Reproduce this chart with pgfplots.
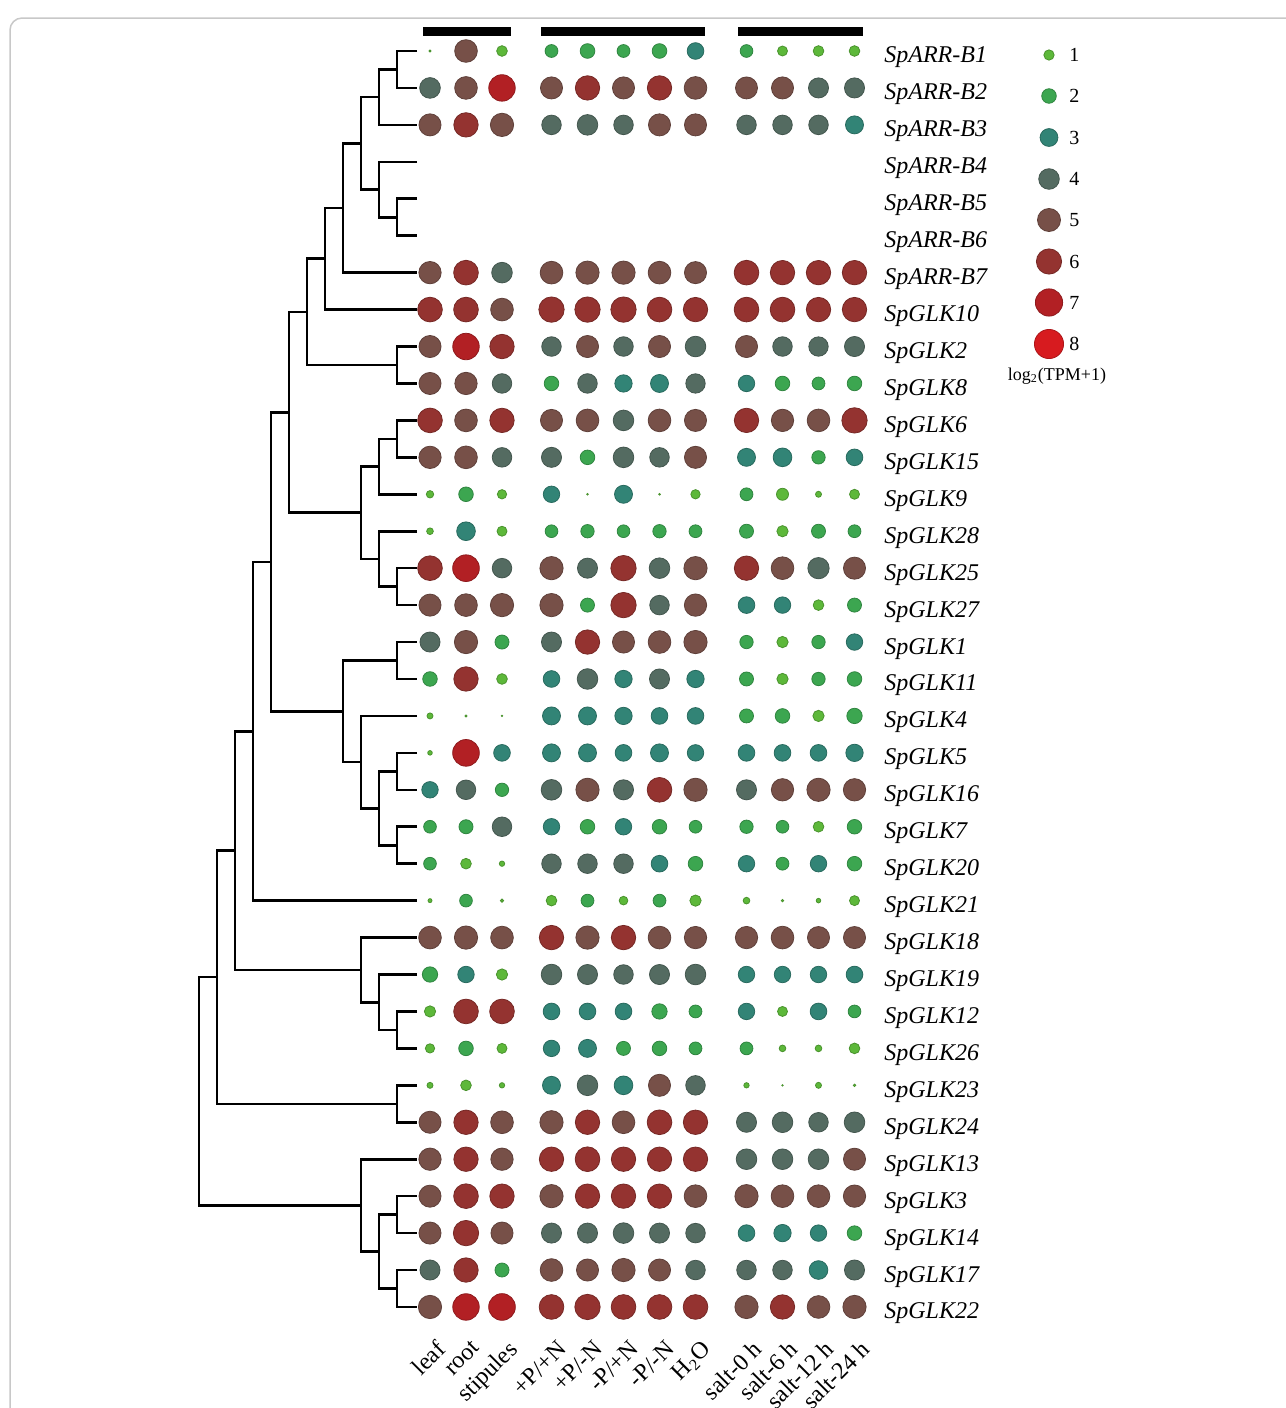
\documentclass[border=0pt]{standalone}
\usepackage{pgfplots}
\pgfplotsset{compat=1.18}
\usepackage{pgfplotstable}
\usepackage{fontspec}
\setmainfont{Liberation Serif}

\pgfplotstableread{
row leaf root stip ppn pmn mpn mmn hoh sa sb sc sd
0 0.04 4.85 1.07 1.55 2.03 1.55 2.03 2.62 1.52 0.94 1.07 1.07
1 4.03 4.85 6.6 4.6 5.6 4.6 5.6 4.85 4.56 4.6 3.8 3.8
2 4.6 5.6 5.1 3.6 4.0 3.6 4.6 4.6 3.6 3.6 3.6 3.05
6 4.7 5.74 4.0 4.85 5.1 5.1 4.85 4.6 5.74 5.6 5.6 5.6
7 5.74 5.74 4.85 6.05 6.05 6.05 5.74 5.6 5.74 5.74 5.6 5.6
8 4.6 6.6 5.6 3.6 4.6 3.6 4.6 4.0 4.6 3.6 3.55 3.8
9 4.6 4.7 3.6 2.0 3.6 2.83 3.05 3.55 2.55 2.0 1.55 2.0
10 5.74 4.85 5.6 4.6 4.85 4.0 4.85 4.6 5.6 4.7 4.85 6.05
11 4.7 4.85 3.6 3.8 2.0 4.0 3.6 4.6 3.05 3.29 1.68 2.62
12 0.51 2.0 0.82 2.55 nan 3.05 0.03 0.82 1.55 1.36 0.34 0.94
13 0.42 3.29 0.94 1.52 1.68 1.52 1.68 1.55 1.85 1.2 1.85 1.55
14 5.74 6.7 3.6 5.1 3.8 6.05 4.0 5.1 5.6 4.85 4.28 4.6
15 4.6 4.85 5.1 5.1 1.85 6.05 3.6 4.7 2.62 2.55 1.07 1.85
16 3.8 5.1 1.85 3.8 5.6 4.6 4.85 5.1 1.68 1.2 1.68 2.55
17 2.0 5.6 1.07 2.62 4.0 2.83 3.8 2.83 1.85 1.2 1.68 2.0
18 0.34 0.04 nan 3.05 3.05 2.83 2.62 2.62 1.85 2.0 1.2 2.22
19 0.2 6.7 2.62 3.05 3.05 2.62 3.05 2.55 2.62 2.62 2.62 2.83
20 2.55 3.6 1.68 4.0 5.1 3.8 5.74 5.1 3.8 4.7 5.1 4.7
21 1.52 1.85 3.6 2.55 2.0 2.55 2.0 1.52 1.68 1.52 1.07 2.0
22 1.52 1.07 0.27 3.6 3.6 3.6 2.62 2.0 2.55 1.55 2.55 2.0
23 0.15 1.52 0.1 1.07 1.55 0.71 1.55 1.2 0.42 0.06 0.2 0.94
24 4.85 5.1 4.85 5.6 5.1 5.6 4.85 4.7 4.7 4.85 4.6 4.6
25 2.22 2.55 1.2 4.0 3.8 3.6 3.8 4.0 2.55 2.55 2.55 2.62
26 1.2 5.74 5.74 2.62 2.62 2.62 2.22 1.55 2.55 0.94 2.62 1.52
27 0.82 2.0 0.94 2.55 3.05 1.85 2.0 1.55 1.55 0.42 0.42 1.07
28 0.34 1.07 0.27 3.05 4.0 3.29 4.6 3.6 0.27 nan 0.34 0.06
29 4.6 5.6 4.85 5.1 5.6 4.85 5.74 5.6 3.8 4.0 3.6 4.0
30 4.7 5.6 4.7 5.6 5.74 5.6 5.6 5.6 4.0 4.0 4.0 4.6
31 4.6 5.74 5.6 5.1 5.6 5.6 5.6 4.85 5.1 4.85 4.85 4.7
32 4.6 6.05 4.6 3.8 3.8 4.0 3.8 3.6 2.62 2.83 2.55 2.0
33 3.8 5.6 1.85 4.85 4.6 5.1 4.6 3.6 3.6 3.6 3.29 3.8
34 5.1 6.6 6.7 5.74 6.05 5.74 5.74 5.74 5.1 5.6 4.85 5.1
}\expr

\pgfplotstableread{
x y v
1049 0.108 1
1049 1.218 2
1049 2.342 3
1049 3.465 4
1049 4.575 5
1049 5.698 6
1049 6.808 7
1049 7.932 8
}\legdata

\pgfplotsset{
  dotcol/.style={only marks, scatter, mark=*, point meta={\thisrow{#1}},
    visualization depends on={sqrt(max(\thisrow{#1},0.02)) \as \rad},
    scatter/@pre marker code/.append style={/tikz/mark size=2.575*\rad}},
  dend/.style={black, line width=1.3pt, no markers, line join=miter},
}

\newcommand{\rowlab}[2]{\node[anchor=base west, inner sep=0pt, yshift=-6pt, font=\itshape\fontsize{12}{14}\selectfont] at (axis cs:884,#1) {#2};}
\newcommand{\collab}[2]{\node[rotate=45, anchor=north east, inner sep=0pt, font=\fontsize{12}{14}\selectfont] at (axis cs:#1,34.86) {#2};}
\newcommand{\leglab}[2]{\node[anchor=west, inner sep=0pt, font=\fontsize{10}{12}\selectfont] at (axis cs:1069,#1) {#2};}

\begin{document}
\begin{tikzpicture}
\begin{axis}[
  scale only axis, width=642.5pt, height=704pt,
  xmin=0, xmax=1285, ymin=-1.3806, ymax=36.7353, y dir=reverse,
  hide axis, clip=false,
  colormap={dots}{rgb255=(93,184,58) rgb255=(60,166,80) rgb255=(50,132,118) rgb255=(84,107,97) rgb255=(119,80,72) rgb255=(148,51,48) rgb255=(178,32,36) rgb255=(215,27,31)},
  colormap access=piecewise constant,
  point meta min=0.5, point meta max=8.5,
]
\coordinate (BL) at (rel axis cs:0,0);
\coordinate (TR) at (rel axis cs:1,1);
% frame
\draw[color={rgb,255:red,200;green,200;blue,200}, line width=0.75pt, rounded corners=6pt] (axis cs:10,40) -- (axis cs:10,-0.893) -- (axis cs:1300,-0.893);
% top bars
\addplot[black, line width=4.5pt, no markers] coordinates {(423,-0.528) (511,-0.528)};
\addplot[black, line width=4.5pt, no markers] coordinates {(541,-0.528) (705,-0.528)};
\addplot[black, line width=4.5pt, no markers] coordinates {(738,-0.528) (863,-0.528)};
% dendrogram
\addplot[dend] coordinates {(417,0)(397,0)(397,1)(417,1)};
\addplot[dend] coordinates {(397,0.5)(379,0.5)(379,2)(417,2)};
\addplot[dend] coordinates {(417,4)(397,4)(397,5)(417,5)};
\addplot[dend] coordinates {(417,3)(379,3)(379,4.5)(397,4.5)};
\addplot[dend] coordinates {(379,1.25)(361,1.25)(361,3.75)(379,3.75)};
\addplot[dend] coordinates {(361,2.5)(343,2.5)(343,6)(417,6)};
\addplot[dend] coordinates {(343,4.25)(325,4.25)(325,7)(417,7)};
\addplot[dend] coordinates {(417,8)(397,8)(397,9)(417,9)};
\addplot[dend] coordinates {(325,5.625)(307,5.625)(307,8.5)(397,8.5)};
\addplot[dend] coordinates {(417,10)(397,10)(397,11)(417,11)};
\addplot[dend] coordinates {(397,10.5)(379,10.5)(379,12)(417,12)};
\addplot[dend] coordinates {(417,14)(397,14)(397,15)(417,15)};
\addplot[dend] coordinates {(417,13)(379,13)(379,14.5)(397,14.5)};
\addplot[dend] coordinates {(379,11.25)(361,11.25)(361,13.75)(379,13.75)};
\addplot[dend] coordinates {(307,7.0625)(289,7.0625)(289,12.5)(361,12.5)};
\addplot[dend] coordinates {(417,16)(397,16)(397,17)(417,17)};
\addplot[dend] coordinates {(417,19)(397,19)(397,20)(417,20)};
\addplot[dend] coordinates {(417,21)(397,21)(397,22)(417,22)};
\addplot[dend] coordinates {(397,19.5)(379,19.5)(379,21.5)(397,21.5)};
\addplot[dend] coordinates {(417,18)(361,18)(361,20.5)(379,20.5)};
\addplot[dend] coordinates {(397,16.5)(343,16.5)(343,19.25)(361,19.25)};
\addplot[dend] coordinates {(289,9.78125)(271,9.78125)(271,17.875)(343,17.875)};
\addplot[dend] coordinates {(271,13.828)(253,13.828)(253,23)(417,23)};
\addplot[dend] coordinates {(417,26)(397,26)(397,27)(417,27)};
\addplot[dend] coordinates {(417,25)(379,25)(379,26.5)(397,26.5)};
\addplot[dend] coordinates {(417,24)(361,24)(361,25.75)(379,25.75)};
\addplot[dend] coordinates {(253,18.414)(235,18.414)(235,24.875)(361,24.875)};
\addplot[dend] coordinates {(417,28)(397,28)(397,29)(417,29)};
\addplot[dend] coordinates {(235,21.645)(217,21.645)(217,28.5)(397,28.5)};
\addplot[dend] coordinates {(417,31)(397,31)(397,32)(417,32)};
\addplot[dend] coordinates {(417,33)(397,33)(397,34)(417,34)};
\addplot[dend] coordinates {(397,31.5)(379,31.5)(379,33.5)(397,33.5)};
\addplot[dend] coordinates {(417,30)(361,30)(361,32.5)(379,32.5)};
\addplot[dend] coordinates {(217,25.072)(199,25.072)(199,31.25)(361,31.25)};
% dots
\addplot[dotcol=leaf] table[x expr=430, y expr={\thisrow{row}+0*\thisrow{leaf}}] {\expr};
\addplot[dotcol=root] table[x expr=466, y expr={\thisrow{row}+0*\thisrow{root}}] {\expr};
\addplot[dotcol=stip] table[x expr=502, y expr={\thisrow{row}+0*\thisrow{stip}}] {\expr};
\addplot[dotcol=ppn] table[x expr=551.5, y expr={\thisrow{row}+0*\thisrow{ppn}}] {\expr};
\addplot[dotcol=pmn] table[x expr=587.5, y expr={\thisrow{row}+0*\thisrow{pmn}}] {\expr};
\addplot[dotcol=mpn] table[x expr=623.5, y expr={\thisrow{row}+0*\thisrow{mpn}}] {\expr};
\addplot[dotcol=mmn] table[x expr=659.5, y expr={\thisrow{row}+0*\thisrow{mmn}}] {\expr};
\addplot[dotcol=hoh] table[x expr=695.5, y expr={\thisrow{row}+0*\thisrow{hoh}}] {\expr};
\addplot[dotcol=sa] table[x expr=746.5, y expr={\thisrow{row}+0*\thisrow{sa}}] {\expr};
\addplot[dotcol=sb] table[x expr=782.5, y expr={\thisrow{row}+0*\thisrow{sb}}] {\expr};
\addplot[dotcol=sc] table[x expr=818.5, y expr={\thisrow{row}+0*\thisrow{sc}}] {\expr};
\addplot[dotcol=sd] table[x expr=854.5, y expr={\thisrow{row}+0*\thisrow{sd}}] {\expr};
% legend dots
\addplot[dotcol=v] table[x=x, y=y] {\legdata};
\leglab{0.108}{1}
\leglab{1.218}{2}
\leglab{2.342}{3}
\leglab{3.465}{4}
\leglab{4.575}{5}
\leglab{5.698}{6}
\leglab{6.808}{7}
\leglab{7.932}{8}
\node[font=\fontsize{9}{11}\selectfont, inner sep=0pt] at (axis cs:1057,8.81) {log\textsubscript{2}(TPM+1)};
% row labels
\rowlab{0}{SpARR-B1}
\rowlab{1}{SpARR-B2}
\rowlab{2}{SpARR-B3}
\rowlab{3}{SpARR-B4}
\rowlab{4}{SpARR-B5}
\rowlab{5}{SpARR-B6}
\rowlab{6}{SpARR-B7}
\rowlab{7}{SpGLK10}
\rowlab{8}{SpGLK2}
\rowlab{9}{SpGLK8}
\rowlab{10}{SpGLK6}
\rowlab{11}{SpGLK15}
\rowlab{12}{SpGLK9}
\rowlab{13}{SpGLK28}
\rowlab{14}{SpGLK25}
\rowlab{15}{SpGLK27}
\rowlab{16}{SpGLK1}
\rowlab{17}{SpGLK11}
\rowlab{18}{SpGLK4}
\rowlab{19}{SpGLK5}
\rowlab{20}{SpGLK16}
\rowlab{21}{SpGLK7}
\rowlab{22}{SpGLK20}
\rowlab{23}{SpGLK21}
\rowlab{24}{SpGLK18}
\rowlab{25}{SpGLK19}
\rowlab{26}{SpGLK12}
\rowlab{27}{SpGLK26}
\rowlab{28}{SpGLK23}
\rowlab{29}{SpGLK24}
\rowlab{30}{SpGLK13}
\rowlab{31}{SpGLK3}
\rowlab{32}{SpGLK14}
\rowlab{33}{SpGLK17}
\rowlab{34}{SpGLK22}
% column labels
\collab{435}{leaf}
\collab{471}{root}
\collab{507}{stipules}
\collab{556.5}{+P/+N}
\collab{592.5}{+P/-N}
\collab{628.5}{-P/+N}
\collab{664.5}{-P/-N}
\collab{700.5}{H\textsubscript{2}O}
\collab{751.5}{salt-0 h}
\collab{787.5}{salt-6 h}
\collab{823.5}{salt-12 h}
\collab{859.5}{salt-24 h}
\end{axis}
\pgfresetboundingbox
\path[use as bounding box] (BL) rectangle (TR);
\end{tikzpicture}
\end{document}
